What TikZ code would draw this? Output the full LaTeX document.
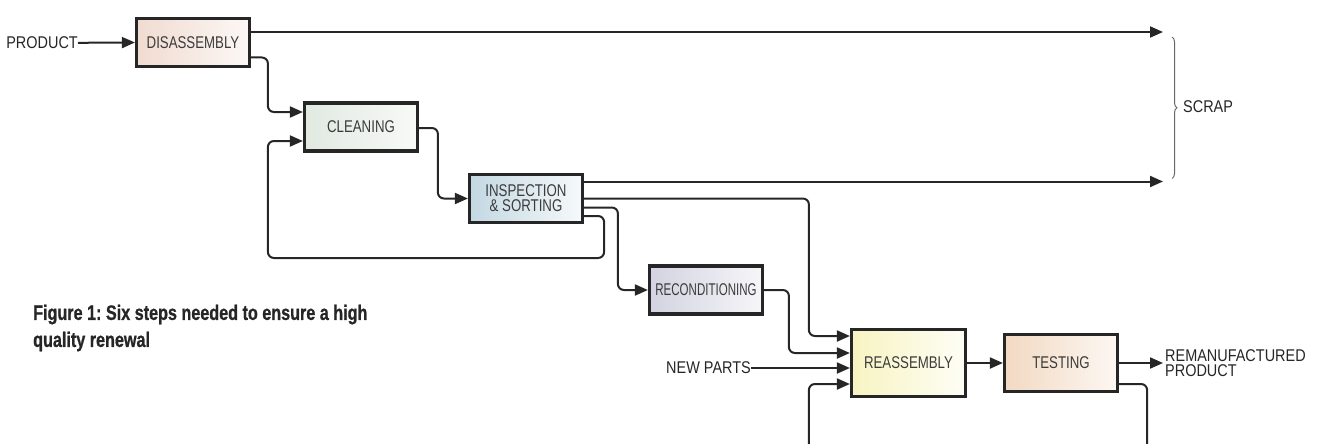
\documentclass[tikz,border=0pt]{standalone}
\usepackage{fontspec}
\usepackage{graphicx}
\usetikzlibrary{arrows.meta,decorations.pathreplacing}

\newfontfamily\boxfont[FakeStretch=0.78]{Liberation Sans}
\newfontfamily\labfont[FakeStretch=0.85]{Liberation Sans}
\newfontfamily\capfont[FakeStretch=0.77, BoldFeatures={FakeBold=0.8}]{Liberation Sans}
\frenchspacing

\definecolor{ink}{HTML}{262626}
\definecolor{disC}{HTML}{F0DBD0}
\definecolor{clnC}{HTML}{E1E9E1}
\definecolor{inspC}{HTML}{C3D8E2}
\definecolor{recC}{HTML}{D3D3E1}
\definecolor{reaC}{HTML}{F7F4C2}
\definecolor{tstC}{HTML}{F2D9C2}

\begin{document}
\begin{tikzpicture}[
  x=1pt, y=-1pt,
  flow/.style={line width=2pt, draw=ink, rounded corners=6pt, -{Triangle[length=13pt,width=11pt]}},
  stage/.style={rectangle, draw=ink, line width=3.2pt, minimum width=113pt, minimum height=48pt,
                inner sep=0pt, text=ink!90, align=center, font=\boxfont\fontsize{17}{15}\selectfont},
  lab/.style={inner sep=0pt, text=ink, align=left, font=\labfont\fontsize{17}{15}\selectfont},
]
\useasboundingbox (0,0) rectangle (1320,444);

% ---- stages ----
\node[stage, left color=disC, right color=disC!20] (dis) at (193,42.5) {DISASSEMBLY};
\node[stage, left color=clnC, right color=clnC!25] (cln) at (361,127) {CLEANING};
\node[stage, left color=inspC, right color=inspC!15] (insp) at (526,198.5) {INSPECTION\\\& SORTING};
\node[stage, left color=recC, right color=recC!20] (recon) at (706,290) {\scalebox{0.87}[1]{RECONDITIONING}};
\node[stage, minimum width=114pt, minimum height=67pt, left color=reaC, right color=reaC!15] (reasm) at (908.5,363) {REASSEMBLY};
\node[stage, minimum height=57pt, left color=tstC, right color=tstC!20] (test) at (1061,363) {TESTING};

% ---- outside labels ----
\node[lab, anchor=east] (prod) at (78,43) {PRODUCT};
\node[lab, anchor=east] (newp) at (751,368) {NEW PARTS};
\node[lab, anchor=west] (remp) at (1165,363.5) {REMANUFACTURED\\PRODUCT};
\coordinate (scrapA) at (1163,32);
\coordinate (scrapB) at (1163,181.5);
\coordinate (outp) at (1163,363);

% ---- main flow ----
\draw[flow] (prod) -- (dis.west);
\draw[flow] ([yshift=10.5pt]dis.east) -- (scrapA);
\draw[flow] ([yshift=-15pt]dis.east) -| ([xshift=-35pt,yshift=15pt]cln.west) -- ([yshift=15pt]cln.west);
\draw[flow] ([yshift=-1pt]cln.east) -| ([xshift=-30pt]insp.west) -- (insp.west);
\draw[flow] ([yshift=17pt]insp.east) -- (scrapB);
\draw[flow] (insp.east) -| ([xshift=-41pt,yshift=27pt]reasm.west) -- ([yshift=27pt]reasm.west);
\draw[flow] ([yshift=-9pt]insp.east) -| ([xshift=-30pt]recon.west) -- (recon.west);
\draw[flow] (recon.east) -| ([xshift=-61pt,yshift=10pt]reasm.west) -- ([yshift=10pt]reasm.west);
\draw[flow] (newp) -- ([yshift=-5pt]reasm.west);
\draw[flow] (reasm.east) -- (test.west);
\draw[flow] (test.east) -- (outp);

% ---- loops back ----
\draw[flow] ([yshift=-17.5pt]insp.east) -- ++(20,0) -- ++(0,42) -| ([xshift=-35pt,yshift=-14pt]cln.west) -- ([yshift=-14pt]cln.west);
\draw[flow] ([yshift=-21pt]test.east) -- ++(28,0) -- ++(0,90) -| ([xshift=-41pt,yshift=-21pt]reasm.west) -- ([yshift=-21pt]reasm.west);

% ---- scrap ----
\draw[ink!70, line width=1pt, decorate, decoration={brace, amplitude=5pt}]
  ([xshift=9pt,yshift=-5pt]scrapA) -- ([xshift=9pt,yshift=3pt]scrapB);
\node[lab, anchor=west] (scrap) at (1183,106.5) {SCRAP};

% ---- caption ----
\node[inner sep=0pt, anchor=north west, align=left, text=ink,
      font=\capfont\bfseries\fontsize{21}{27}\selectfont] (cap) at (33,304.5)
  {Figure 1: Six steps needed to ensure a high\\quality renewal};
\end{tikzpicture}
\end{document}
